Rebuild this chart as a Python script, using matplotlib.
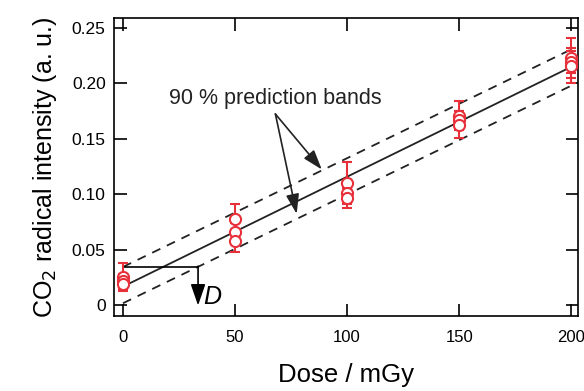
import numpy as np
import matplotlib
matplotlib.use("Agg")
import matplotlib.pyplot as plt

plt.rcParams['font.family'] = ['Liberation Sans', 'DejaVu Sans']

# data
dose = [0, 0, 0, 50, 50, 50, 100, 100, 100, 150, 150, 150, 200, 200, 200]
intensity = [0.026, 0.022, 0.019, 0.078, 0.066, 0.058, 0.110, 0.101, 0.097,
             0.171, 0.167, 0.163, 0.223, 0.219, 0.216]
err = [0.012, 0.006, 0.006, 0.013, 0.008, 0.010, 0.019, 0.008, 0.009,
       0.013, 0.008, 0.012, 0.018, 0.010, 0.016]

fit_slope = 0.00099
fit_icpt = 0.017
band_upper = 0.0347
band_lower = 0.002
band_slope = 0.00098
D_dose = 33.5

xticks = [0, 50, 100, 150, 200]
yticks = [0, 0.05, 0.10, 0.15, 0.20, 0.25]
yticklabels = ['0', '0.05', '0.10', '0.15', '0.20', '0.25']

fig = plt.figure(figsize=(5.84, 3.91), dpi=100)
ax = fig.add_axes([0.1952, 0.1918, 0.7945, 0.7622])

xx = np.array([0, 200])
ax.plot(xx, fit_icpt + fit_slope * xx, color='#222222', lw=1.3, zorder=2)
ax.plot(xx, band_upper + band_slope * xx, color='#222222', lw=1.3,
        dashes=(5, 4), zorder=2)
ax.plot(xx, band_lower + band_slope * xx, color='#222222', lw=1.3,
        dashes=(5, 4), zorder=2)

ax.errorbar(dose, intensity, yerr=err, fmt='o', mfc='white', mec='#e8303a',
            ecolor='#e8303a', mew=1.5, ms=8, capsize=3.5, capthick=1.5,
            elinewidth=1.5, zorder=3)

# detection limit construction
ax.plot([0, D_dose], [band_upper, band_upper], color='black', lw=1.2, zorder=2)
ax.annotate('', xy=(D_dose, 0.0), xytext=(D_dose, band_upper + 0.0007),
            arrowprops=dict(arrowstyle='-|>,head_length=1.3,head_width=0.45',
                            color='black', lw=1.2, shrinkA=0, shrinkB=0))
ax.text(D_dose + 2.5, 0.008, 'D', fontsize=18, style='italic',
        ha='left', va='center')

ax.text(68, 0.1865, '90 % prediction bands', fontsize=15.5, ha='center',
        va='center', color='#222222')
for tgt in [(88.7, 0.1225), (77.5, 0.0825)]:
    ax.annotate('', xy=tgt, xytext=(68, 0.1725),
                arrowprops=dict(arrowstyle='-|>,head_length=1.2,head_width=0.4',
                                color='#222222', lw=1.2, shrinkA=0, shrinkB=0))

ax.set_xlim(-4, 203)
ax.set_ylim(-0.0095, 0.259)
ax.set_xticks(xticks)
ax.set_yticks(yticks)
ax.set_yticklabels(yticklabels)
ax.tick_params(direction='in', length=9, width=1.2, labelsize=12.5,
               top=True, right=True)
ax.tick_params(axis='x', pad=10, labelsize=12)
ax.tick_params(axis='y', pad=6)
for s in ax.spines.values():
    s.set_linewidth(1.2)

ax.set_xlabel('Dose / mGy', fontsize=18.5, labelpad=13)
ax.set_ylabel('CO$_2$ radical intensity (a. u.)', fontsize=18, labelpad=9)

fig.savefig('out.png', dpi=100)
